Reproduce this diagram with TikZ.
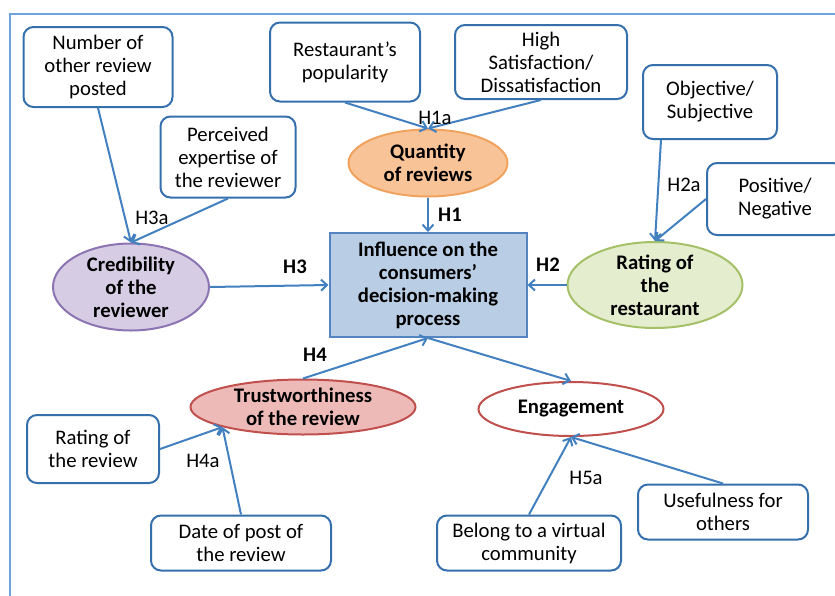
\documentclass[tikz,border=0pt]{standalone}
\usepackage{fontspec}
\setmainfont{Carlito}
\usetikzlibrary{arrows.meta,shapes.geometric}

\definecolor{framecol}{HTML}{6FA3DC}
\definecolor{boxline}{HTML}{3670AC}
\definecolor{linkcol}{HTML}{4280BF}
\definecolor{quantfill}{HTML}{F9C398}
\definecolor{quantline}{HTML}{F0A35E}
\definecolor{credfill}{HTML}{D6CDE5}
\definecolor{credline}{HTML}{8B74B1}
\definecolor{ratefill}{HTML}{E5EDCF}
\definecolor{rateline}{HTML}{A5C168}
\definecolor{trustfill}{HTML}{EDBAB8}
\definecolor{trustline}{HTML}{C0504D}
\definecolor{inflfill}{HTML}{B9CDE5}
\definecolor{inflline}{HTML}{5585C0}

\begin{document}
\begin{tikzpicture}[x=1pt, y=-1pt, font=\fontsize{20.7}{23}\selectfont]
  \tikzset{
    factor/.style={draw=boxline, line width=2pt, rounded corners=10pt, fill=white, align=center, inner sep=0pt},
    construct/.style={ellipse, line width=2pt, align=center, inner sep=0pt, font=\fontsize{20.7}{23}\selectfont\bfseries},
    link/.style={-{Straight Barb[length=6pt, width=11pt]}, linkcol, line width=2pt},
    hyp/.style={inner sep=1pt},
    hypb/.style={inner sep=1pt, font=\fontsize{20.7}{23}\selectfont\bfseries}
  }
  \useasboundingbox (0,0) rectangle (835,595);
  % frame (only top and left edges show)
  \draw[framecol, line width=2pt] (10,600) -- (10,14) -- (840,14);
  % outer factors
  \node[factor, minimum width=149pt, minimum height=80pt] (num) at (98,67) {Number of\\other review\\posted};
  \node[factor, minimum width=135pt, minimum height=81pt] (expert) at (228,157) {Perceived\\expertise of\\the reviewer};
  \node[factor, minimum width=150pt, minimum height=79pt] (popul) at (345,62) {Restaurant’s\\popularity};
  \node[factor, minimum width=172pt, minimum height=74pt] (satis) at (541,62) {High\\Satisfaction/\\Dissatisfaction};
  \node[factor, minimum width=134pt, minimum height=74pt] (objsub) at (710,102) {Objective/\\Subjective};
  \node[factor, minimum width=136pt, minimum height=72pt] (posneg) at (775,199) {Positive/\\Negative};
  \node[factor, minimum width=132pt, minimum height=68pt] (ratrev) at (93,449) {Rating of\\the review};
  \node[factor, minimum width=180pt, minimum height=55pt] (datepost) at (241,543) {Date of post of\\the review};
  \node[factor, minimum width=184pt, minimum height=55pt] (virtual) at (529,543) {Belong to a virtual\\community};
  \node[factor, minimum width=170pt, minimum height=55pt] (useful) at (723,512) {Usefulness for\\others};
  % constructs
  \node[construct, draw=quantline, fill=quantfill, minimum width=159pt, minimum height=67pt] (quant) at (428,163) {Quantity\\of reviews};
  \node[construct, draw=credline, fill=credfill, minimum width=156pt, minimum height=87pt] (cred) at (131,287) {Credibility\\of the\\reviewer};
  \node[construct, draw=rateline, fill=ratefill, minimum width=175pt, minimum height=86pt] (rating) at (655,285) {Rating of\\the\\restaurant};
  \node[construct, draw=trustline, fill=trustfill, minimum width=225pt, minimum height=55pt] (trust) at (303,407) {Trustworthiness\\of the review};
  \node[construct, draw=trustline, fill=white, minimum width=185pt, minimum height=54pt] (engage) at (571,409) {Engagement};
  % central box
  \node[draw=inflline, fill=inflfill, line width=2pt, align=center, inner sep=0pt, minimum width=197pt, minimum height=104pt,
        font=\fontsize{20.7}{23}\selectfont\bfseries] (infl) at (428,285) {Influence on the\\consumers’\\decision-making\\process};
  % connectors
  \draw[link] (num.south) -- (cred.north);
  \draw[link] (expert.south) -- (cred.north);
  \draw[link] (popul.south) -- (quant.north);
  \draw[link] (satis.south) -- (quant.north);
  \draw[link] (quant.south) -- (infl.north);
  \draw[link] ([xshift=19pt]objsub.south west) -- (rating.north);
  \draw[link] (posneg.west) -- (rating.north);
  \draw[link] (rating.west) -- (infl.east);
  \draw[link] (cred.east) -- (infl.west);
  \draw[link] (trust.north) -- (infl.south);
  \draw[link] (infl.south) -- (engage.north);
  \draw[link] (ratrev.east) -- (trust.194);
  \draw[link] (datepost.north) -- (trust.194);
  \draw[link] (virtual.north) -- (engage.south);
  \draw[link] (useful.north) -- (engage.south);
  % hypothesis labels
  \node[hyp] (h1a) at (435,118) {H1a};
  \node[hypb] (h1) at (450,215) {H1};
  \node[hyp] (h2a) at (684,185) {H2a};
  \node[hypb] (h2) at (548,265) {H2};
  \node[hypb] (h3) at (295,267) {H3};
  \node[hyp] (h3a) at (152,218) {H3a};
  \node[hypb] (h4) at (315,355) {H4};
  \node[hyp] (h4a) at (203,461) {H4a};
  \node[hyp] (h5a) at (586,478) {H5a};
\end{tikzpicture}
\end{document}
